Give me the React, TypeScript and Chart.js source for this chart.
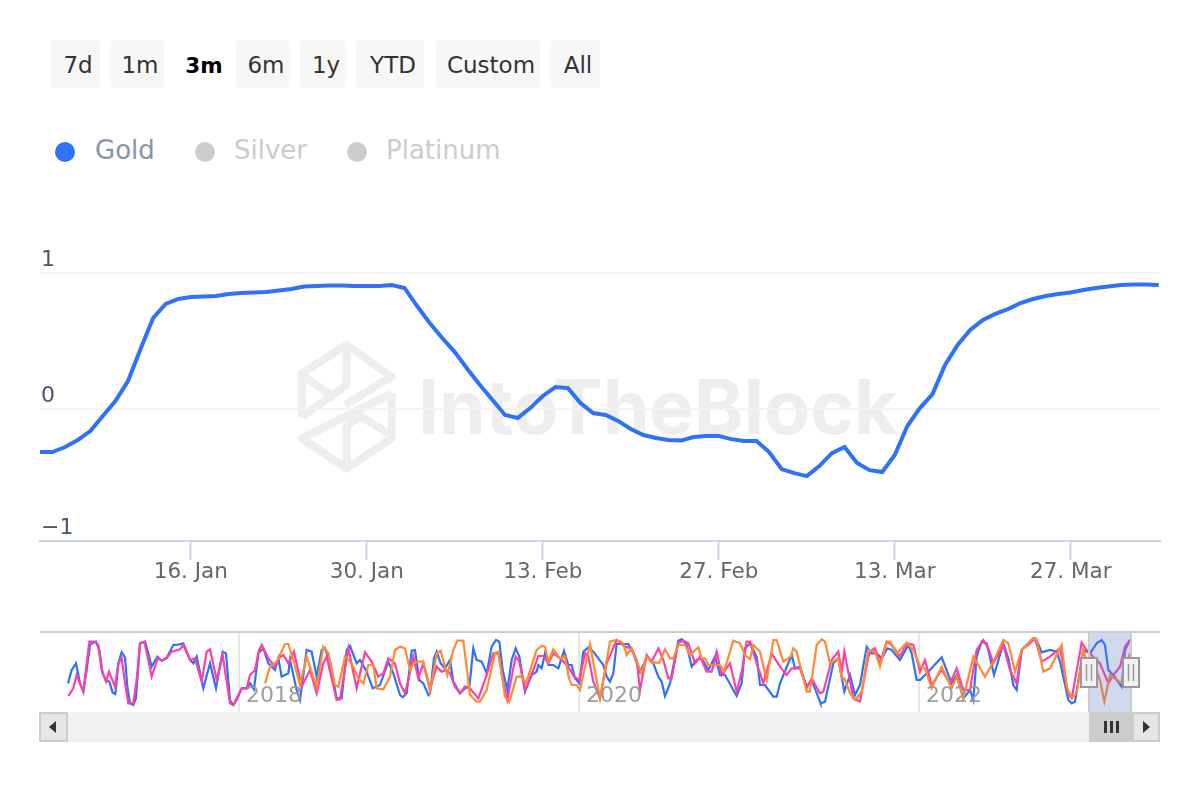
import React, { useEffect, useRef } from "react";
import { Chart, registerables } from "chart.js";

Chart.register(...registerables);

const FONT = '"DejaVu Sans", sans-serif';
const BLUE = "#2f72f5";
const PINK = "#ff3fa6";
const ORANGE = "#ff8a33";

const rangeButtons = ["7d", "1m", "3m", "6m", "1y", "YTD", "Custom", "All"];
const activeRange = "3m";
const buttonBoxes: Record<string, [number, number]> = {
  "7d": [50, 50], "1m": [110, 54], "3m": [174, 54], "6m": [236, 54],
  "1y": [300, 46], YTD: [356, 68], Custom: [436, 104], All: [550, 50],
};
const legendItems = [
  { name: "Gold", dot: 65, text: 95, dotColor: BLUE, textColor: "#8795a6" },
  { name: "Silver", dot: 205, text: 234, dotColor: "#cccccc", textColor: "#cccccc" },
  { name: "Platinum", dot: 357, text: 386, dotColor: "#cccccc", textColor: "#cccccc" },
];

// Main chart: daily Gold values, day 0 = 4 Jan
const goldDaily = [
  -0.316, -0.316, -0.279, -0.228, -0.162, -0.051, 0.059, 0.206, 0.441, 0.669,
  0.772, 0.809, 0.824, 0.827, 0.831, 0.846, 0.853, 0.857, 0.86, 0.871,
  0.882, 0.901, 0.904, 0.908, 0.908, 0.904, 0.904, 0.904, 0.912, 0.89,
  0.757, 0.632, 0.522, 0.419, 0.294, 0.176, 0.066, -0.044, -0.066, 0.007,
  0.096, 0.162, 0.154, 0.044, -0.029, -0.044, -0.088, -0.147, -0.191, -0.213,
  -0.228, -0.232, -0.206, -0.199, -0.199, -0.221, -0.235, -0.235, -0.316, -0.441,
  -0.471, -0.493, -0.419, -0.324, -0.279, -0.397, -0.449, -0.463, -0.338, -0.125,
  0.007, 0.11, 0.324, 0.471, 0.581, 0.654, 0.699, 0.735, 0.779, 0.809,
  0.831, 0.846, 0.857, 0.875, 0.89, 0.901, 0.912, 0.915, 0.915, 0.912,
];
const mainTickDays = [12, 26, 40, 54, 68, 82];
const mainTickLabels = ["16. Jan", "30. Jan", "13. Feb", "27. Feb", "13. Mar", "27. Mar"];
const yTickValues = [-0.97, 0, 1];
const yTickLabels = ["−1", "0", "1"];

type P = [number, number];
const navGold: P[] = [
  [114,-.3],[125,.1],[138,.3],[150,-.3],[160,-.55],[170,.1],[180,.85],[190,.92],[198,.95],[208,.7],[218,0],[228,-.22],[238,-.25],[248,-.58],[256,-.62],[265,.3],[275,.63],[285,.48],[292,-.4],[300,-.9],[310,-.95],[318,-.75],[330,.9],[345,.95],[355,.6],[365,.2],[382,.5],[395,.38],[410,.47],[430,.85],[445,.86],[460,.9],[480,.4],[490,.3],[500,.5],[520,-.45],[540,.3],[558,-.45],[578,.65],[588,.6],[600,-.8],[610,-.95],[620,-.8],[635,-.45],[650,-.45],[660,-.3],[672,-.48],[685,.6],[700,.75],[715,.3],[735,.1],[745,.45],[755,-.1],[775,0],[780,.4],[800,-.5],[810,-.8],[830,.7],[845,.65],[860,-.1],[875,.7],[885,.75],[900,.35],[920,-.75],[935,-.75],[950,.7],[960,.82],[980,.3],[990,.4],[1010,.05],[1028,-.45],[1050,-.35],[1075,.35],[1090,0],[1110,-.65],[1118,-.72],[1130,-.6],[1145,.68],[1155,.7],[1168,-.2],[1180,-.3],[1195,-.65],
  [1200,-.6],[1212,.45],[1220,.65],[1232,.3],[1245,.15],[1260,.4],[1270,-.25],[1290,-.6],[1305,-.45],[1318,-.4],[1330,.75],[1340,.4],[1355,.35],[1370,0],[1385,.8],[1398,1],[1408,.95],[1418,.1],[1432,-.5],[1445,.4],[1457,.75],[1468,.5],[1485,-.55],[1505,-.05],[1520,.05],[1525,.25],[1535,.15],[1545,.6],[1555,.25],[1570,.25],[1585,.15],[1602,.68],[1615,.25],[1625,.25],[1635,-.15],[1648,-.3],[1660,.65],[1675,.78],[1690,.65],[1720,.25],[1730,-.1],[1740,-.25],[1750,0],[1760,.88],[1795,.88],[1810,.6],[1830,.05],[1845,.35],[1850,.5],[1870,.3],[1885,-.1],[1895,-.25],[1905,-.68],[1920,-.3],[1945,.98],[1955,1.03],[1970,.85],[1985,.2],[2000,.4],[2015,.45],[2035,.1],[2055,.5],[2070,-.05],[2085,-.05],[2120,-.68],[2135,-.3],[2145,.75],[2160,.9],[2180,.5],[2190,-.35],[2205,-.35],[2230,-.7],[2240,-.7],[2250,-.3],[2285,.55],[2295,.15],[2310,.2],[2330,-.4],[2345,-.2],[2370,-.85],
  [2372,-.9],[2385,-.85],[2410,.3],[2425,.45],[2443,-.55],[2460,-.05],[2475,-.65],[2490,-.35],[2510,.8],[2525,.6],[2540,.6],[2555,.45],[2572,.75],[2585,.7],[2610,.4],[2635,.85],[2645,.6],[2660,-.2],[2670,-.2],[2695,.05],[2735,.48],[2765,-.3],[2780,-.05],[2800,-.75],[2820,-.5],[2830,-.8],[2840,.5],[2855,.95],[2870,.9],[2892,-.05],[2920,.9],[2935,.45],[2950,-.35],[2960,-.5],[2975,.7],[3010,1.05],[3020,1],[3035,.63],[3060,.7],[3080,.65],[3090,.35],[3115,-.8],[3125,-.9],[3135,-.85],[3160,.7],[3180,.6],[3200,.9],[3215,1],[3225,.85],[3235,.1],[3250,-.05],[3275,-.4],[3285,.7],[3300,1],
];
const navSilver: P[] = [
  [115,-.68],[130,-.45],[140,-.05],[160,-.55],[178,.95],[195,.95],[205,.85],[215,.1],[228,-.25],[237,.05],[255,-.4],[265,.3],[275,.45],[285,-.3],[295,-.9],[310,-.9],[320,-.2],[330,.9],[343,.95],[355,.4],[365,-.1],[383,.45],[395,.38],[410,.45],[425,.65],[450,.72],[460,.85],[480,.4],[495,.45],[515,-.25],[530,.65],[540,.72],[560,-.2],[578,.55],[600,-.9],[610,-.95],[635,-.45],[650,-.45],[660,-.05],[675,.1],[687,.7],[695,.85],[715,.45],[735,.2],[745,.45],[760,.55],[775,.3],[792,.65],[815,-.4],[840,.1],[860,-.6],[880,.3],[890,.5],[920,-.8],[930,-.78],[955,.75],[980,-.45],[1005,.63],[1025,.35],[1045,-.1],[1060,0],[1075,.45],[1095,.3],[1110,-.3],[1125,-.6],[1135,-.2],[1150,.5],[1165,-.15],[1180,.3],[1195,-.3],
  [1200,-.5],[1212,-.05],[1220,.2],[1235,.05],[1250,.1],[1260,0],[1275,-.4],[1290,-.6],[1305,-.4],[1320,-.45],[1345,-.75],[1365,-.2],[1390,.6],[1405,.6],[1420,-.3],[1432,-.8],[1445,-.1],[1457,.5],[1468,.35],[1485,-.5],[1510,.1],[1525,.52],[1540,.52],[1555,.3],[1570,.6],[1590,.45],[1615,.2],[1632,-.1],[1648,-.2],[1665,.6],[1675,.5],[1690,-.25],[1710,-.75],[1730,.3],[1760,1],[1785,.8],[1805,.75],[1820,.4],[1830,-.5],[1850,.55],[1865,.35],[1885,.75],[1900,.4],[1915,-.15],[1925,-.15],[1945,.92],[1960,.98],[1975,.9],[1995,.3],[2010,.5],[2030,.05],[2045,.05],[2060,.65],[2075,-.05],[2100,.3],[2120,-.55],[2135,.05],[2150,.95],[2160,.95],[2180,.3],[2200,-.3],[2225,.6],[2250,.2],[2270,-.05],[2285,.15],[2310,.15],[2330,-.45],[2345,-.15],[2370,-.6],
  [2380,-.55],[2405,.4],[2425,.65],[2435,.05],[2443,.65],[2470,-.75],[2490,-.85],[2515,.5],[2525,.7],[2535,.75],[2550,.3],[2570,.95],[2585,.85],[2610,.5],[2630,.9],[2650,.85],[2670,.05],[2685,.4],[2705,-.35],[2735,.1],[2760,-.3],[2780,.15],[2800,-.5],[2820,-.5],[2840,.7],[2860,1],[2875,.75],[2890,.3],[2920,.85],[2940,.1],[2960,-.3],[2975,.7],[3000,.9],[3015,1.05],[3035,.35],[3060,.5],[3090,.75],[3115,-.65],[3125,-.75],[3155,.92],[3170,.7],[3190,.5],[3210,.3],[3235,-.3],[3250,-.05],[3270,.2],[3285,.8],[3300,1],
];
const navPlatinum: P[] = [
  [705,-.3],[720,.2],[740,.35],[765,.88],[775,.88],[790,.4],[810,-.35],[830,.5],[860,-.4],[880,.8],[895,.6],[915,-.35],[925,-.4],[945,.5],[965,.3],[985,-.15],[1000,-.3],[1015,.25],[1030,.25],[1040,-.45],[1060,-.48],[1080,-.1],[1095,.7],[1110,.8],[1125,.75],[1140,.1],[1150,.3],[1165,.35],[1180,.35],[1195,-.25],
  [1200,-.55],[1220,.6],[1232,.68],[1252,-.05],[1270,.7],[1282,.98],[1300,.98],[1320,-.65],[1340,-.85],[1350,-.85],[1370,-.5],[1395,.6],[1405,.65],[1425,-.7],[1438,-.85],[1460,-.1],[1475,-.1],[1488,-.3],[1520,.7],[1535,.82],[1545,.8],[1555,.35],[1570,.72],[1590,.45],[1605,.5],[1617,-.15],[1625,-.35],[1640,-.35],[1650,-.5],[1680,.88],[1710,-.75],[1740,.95],[1760,1],[1780,.9],[1790,.55],[1805,.75],[1835,0],[1850,.5],[1865,.32],[1888,.32],[1905,.72],[1920,.45],[1930,.45],[1945,.85],[1965,.85],[1980,.55],[2005,.78],[2015,.45],[2025,.45],[2035,.25],[2070,.25],[2082,.05],[2110,.98],[2130,.9],[2145,.55],[2160,.42],[2170,.85],[2190,.65],[2205,0],[2210,-.2],[2230,1],[2240,1],[2260,.35],[2282,.5],[2290,.75],[2300,.65],[2330,-.55],[2340,-.55],
  [2360,.85],[2375,1.02],[2385,.95],[2400,.3],[2425,.45],[2435,-.15],[2443,-.15],[2460,-.6],[2475,-.8],[2495,-.55],[2515,.7],[2535,.65],[2550,.2],[2570,.95],[2580,.95],[2600,.6],[2630,.92],[2650,.7],[2670,.2],[2685,.15],[2705,-.45],[2735,.2],[2765,-.45],[2780,-.1],[2800,-.75],[2830,.5],[2865,-.1],[2890,.35],[2920,1],[2935,.9],[2955,.05],[2975,.7],[3010,1.05],[3020,1.02],[3040,.05],[3060,.15],[3095,.85],[3110,-.4],[3125,-.75],[3140,-.6],[3160,.7],[3170,.4],[3190,.35],[3210,-.2],[3223,-.85],[3240,-.05],[3260,-.2],[3275,-.3],[3300,.6],
];
const navYearTicks = [627, 1647, 2667];
const navYearLabels = ["2018", "2020", "2022"];
const navSelection = [3177, 3303];
const navRange = [30, 3390];

const box = (left: number, top: number, width: number, height: number, extra: React.CSSProperties = {}): React.CSSProperties => ({
  position: "absolute", left, top, width, height, boxSizing: "border-box", ...extra,
});

const navigatorMask = {
  id: "navigatorMask",
  afterDatasetsDraw(chart: any) {
    const { ctx, chartArea, scales } = chart;
    ctx.save();
    ctx.fillStyle = "rgba(153,153,153,0.95)";
    ctx.font = `22px ${FONT}`;
    ctx.textAlign = "left";
    ctx.textBaseline = "middle";
    navYearTicks.forEach((t, i) => {
      ctx.fillText(navYearLabels[i], scales.x.getPixelForValue(t) + 7, 76);
    });
    const a = scales.x.getPixelForValue(navSelection[0]);
    const b = scales.x.getPixelForValue(navSelection[1]);
    ctx.fillStyle = "rgba(102,133,194,0.3)";
    ctx.fillRect(a, chartArea.top, b - a, chartArea.bottom - chartArea.top);
    ctx.strokeStyle = "#cccccc";
    ctx.lineWidth = 2;
    [a, b].forEach((p) => {
      ctx.beginPath();
      ctx.moveTo(p, chartArea.top);
      ctx.lineTo(p, chartArea.bottom);
      ctx.stroke();
    });
    [a, b].forEach((p) => {
      ctx.fillStyle = "#f2f2f2";
      ctx.strokeStyle = "#999999";
      ctx.lineWidth = 2;
      ctx.fillRect(p - 8, 38, 16, 29);
      ctx.strokeRect(p - 8, 38, 16, 29);
      ctx.lineWidth = 1.5;
      [-2.5, 2.5].forEach((d) => {
        ctx.beginPath();
        ctx.moveTo(p + d, 44);
        ctx.lineTo(p + d, 61);
        ctx.stroke();
      });
    });
    ctx.restore();
  },
};

export default function App() {
  const mainRef = useRef<HTMLCanvasElement>(null);
  const navRef = useRef<HTMLCanvasElement>(null);

  useEffect(() => {
    const main = new Chart(mainRef.current!, {
      type: "line",
      data: {
        datasets: [
          {
            label: "Gold",
            data: goldDaily.map((y, x) => ({ x, y })),
            borderColor: BLUE,
            borderWidth: 4,
            pointRadius: 0,
            tension: 0,
          },
        ],
      },
      options: {
        animation: false,
        responsive: false,
        layout: { padding: { left: 40, right: 40, top: 273, bottom: 0 } },
        plugins: { legend: { display: false }, tooltip: { enabled: false } },
        scales: {
          x: {
            type: "linear",
            min: 0,
            max: 89.1,
            afterBuildTicks: (s: any) => { s.ticks = mainTickDays.map((value) => ({ value })); },
            afterFit: (s: any) => { s.height = 59; },
            border: { color: "#ccd6eb", width: 2 },
            grid: { drawOnChartArea: false, drawTicks: true, tickLength: 19, tickColor: "#ccd6eb", tickWidth: 2 },
            ticks: {
              autoSkip: false,
              maxRotation: 0,
              padding: 0,
              color: "#666666",
              font: { family: FONT, size: 21.5 },
              callback: (_v: any, i: number) => mainTickLabels[i],
            },
          },
          y: {
            type: "linear",
            min: -0.97,
            max: 1,
            afterBuildTicks: (s: any) => { s.ticks = yTickValues.map((value) => ({ value })); },
            afterFit: (s: any) => { s.width = 0; },
            border: { display: false },
            grid: { color: "#f3f3f3", lineWidth: 2, drawTicks: false },
            ticks: {
              mirror: true,
              padding: 1,
              labelOffset: -13,
              color: "#4a5568",
              font: { family: FONT, size: 22 },
              callback: (_v: any, i: number) => yTickLabels[i],
            },
          },
        },
      },
    } as any);

    const nav = new Chart(navRef.current!, {
      type: "line",
      data: {
        datasets: [
          { label: "Gold", data: navGold.map(([x, y]) => ({ x, y })), borderColor: BLUE, order: 3 },
          { label: "Silver", data: navSilver.map(([x, y]) => ({ x, y })), borderColor: PINK, order: 2 },
          { label: "Platinum", data: navPlatinum.map(([x, y]) => ({ x, y })), borderColor: ORANGE, order: 1 },
        ].map((d) => ({ ...d, borderWidth: 2.2, pointRadius: 0, tension: 0 })),
      },
      options: {
        animation: false,
        responsive: false,
        layout: { padding: { left: 40, right: 40, top: 13, bottom: 8 } },
        plugins: { legend: { display: false }, tooltip: { enabled: false } },
        scales: {
          x: {
            type: "linear",
            min: navRange[0],
            max: navRange[1],
            afterBuildTicks: (s: any) => { s.ticks = navYearTicks.map((value) => ({ value })); },
            afterFit: (s: any) => { s.height = 0; },
            border: { display: false },
            grid: { color: "#e6e6e6", lineWidth: 2, drawTicks: false },
            ticks: { display: false, autoSkip: false, maxRotation: 0 },
          },
          y: { type: "linear", display: false, min: -1.16, max: 1.21 },
        },
      },
      plugins: [navigatorMask],
    } as any);

    return () => {
      main.destroy();
      nav.destroy();
    };
  }, []);

  return (
    <div style={box(0, 0, 1200, 800, { background: "#fff", overflow: "hidden", fontFamily: FONT })}>
      {rangeButtons.map((b) => {
        const [left, width] = buttonBoxes[b];
        const active = b === activeRange;
        return (
          <div
            key={b}
            style={box(left, 40, width, 48, {
              background: active ? "transparent" : "#f7f7f7",
              borderRadius: 4,
              textAlign: "center",
              paddingLeft: 6,
              lineHeight: "51px",
              fontSize: active ? 21.5 : 23,
              fontWeight: active ? 700 : 400,
              color: active ? "#000" : "#333",
              whiteSpace: "nowrap",
            })}
          >
            {b}
          </div>
        );
      })}
      {legendItems.map((l) => (
        <React.Fragment key={l.name}>
          <div style={box(l.dot - 10, 142, 20, 20, { borderRadius: "50%", background: l.dotColor })} />
          <div style={{ position: "absolute", left: l.text, top: 132, lineHeight: "36px", fontSize: 26, color: l.textColor, whiteSpace: "nowrap" }}>
            {l.name}
          </div>
        </React.Fragment>
      ))}

      <svg style={box(290, 335, 120, 145)} viewBox="0 0 360 435" fill="none" stroke="#eeeeee" strokeWidth="24" strokeLinejoin="round">
        <path d="M35 245 V115 L170 30 L305 125 L165 210" />
        <path d="M45 125 L135 190 M205 240 L295 295" />
        <path d="M170 30 V150 L35 245" />
        <path d="M305 175 V310 L170 400 L35 310 L305 175" />
        <path d="M170 400 V275 L205 245" />
      </svg>
      <div style={{ position: "absolute", left: 418, top: 362, fontFamily: "Inter, sans-serif", fontWeight: 700, fontSize: 75, lineHeight: "90px", color: "#eeeeee", whiteSpace: "nowrap" }}>
        IntoTheBlock
      </div>

      <canvas ref={mainRef} width={1200} height={600} style={{ position: "absolute", left: 0, top: 0 }} />

      <div style={box(40, 631, 1120, 2, { background: "#cccccc" })} />
      <canvas ref={navRef} width={1200} height={100} style={{ position: "absolute", left: 0, top: 620 }} />

      <div style={box(39, 712, 1121, 30, { background: "#f2f2f2" })} />
      <div style={box(39, 712, 29, 30, { background: "#e6e6e6", border: "2px solid #cccccc" })} />
      <div style={box(49, 721, 0, 0, { borderTop: "6px solid transparent", borderBottom: "6px solid transparent", borderRight: "7px solid #333" })} />
      <div style={box(1089, 712, 43, 30, { background: "#cccccc" })} />
      {[1104, 1110, 1116].map((x) => (
        <div key={x} style={box(x, 721, 2.5, 12, { background: "#333" })} />
      ))}
      <div style={box(1132, 712, 28, 30, { background: "#e6e6e6", border: "2px solid #cccccc" })} />
      <div style={box(1143, 721, 0, 0, { borderTop: "6px solid transparent", borderBottom: "6px solid transparent", borderLeft: "7px solid #333" })} />
    </div>
  );
}
